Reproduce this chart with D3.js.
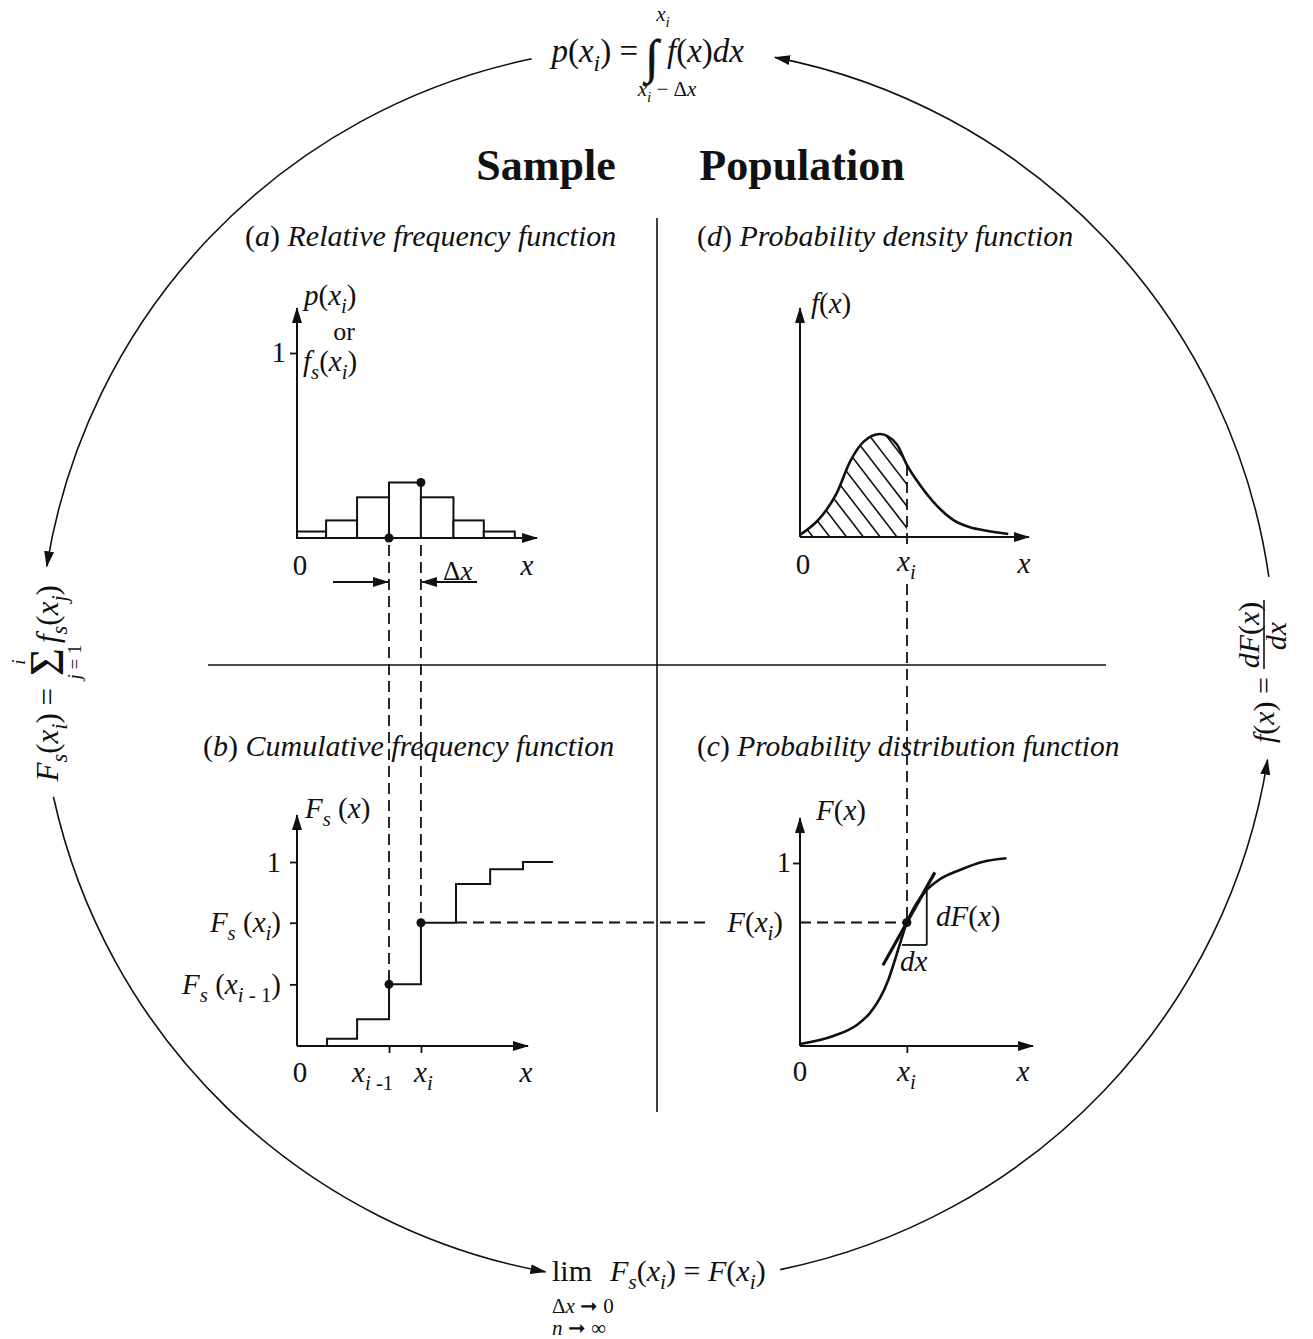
<!DOCTYPE html>
<html>
<head>
<meta charset="utf-8">
<script src="https://cdn.jsdelivr.net/npm/d3@7"></script>
<style>
  body { margin: 0; background: #fff; }
  text { font-family: "Liberation Serif", "Times New Roman", serif; fill: #111; }
</style>
</head>
<body>
<svg id="chart" width="1313" height="1339"></svg>
<script>
// (a) relative frequency histogram (x in bin-width units)
const binEdges = [0, 0.93, 1.92, 2.94, 3.96, 5.0, 5.97, 6.96]
const relFreq = [0.035, 0.095, 0.22, 0.30, 0.22, 0.095, 0.035]

// (b) cumulative frequency steps
const stepX = [0.96, 1.92, 2.94, 3.96, 5.08, 6.17, 7.22]
const cumFreq = [0.04, 0.145, 0.335, 0.67, 0.88, 0.96, 1.0]
const stepEnd = 8.18

// (d) probability density function
const pdfX = [0, 0.93, 1.71, 2.34, 2.96, 3.74, 4.52, 5.0, 5.6, 6.39, 7.17, 7.94, 8.72, 9.73]
const pdfY = [0.009, 0.081, 0.188, 0.325, 0.41, 0.444, 0.40, 0.31, 0.225, 0.135, 0.073, 0.042, 0.027, 0.013]

// (c) probability distribution function
const cdfX = [0, 1.56, 2.66, 3.27, 3.74, 4.13, 4.44, 4.67, 5.0, 5.45, 5.92, 6.54, 7.48, 8.57, 9.66]
const cdfY = [0.011, 0.055, 0.115, 0.18, 0.261, 0.361, 0.47, 0.557, 0.675, 0.779, 0.852, 0.911, 0.962, 1.007, 1.026]

const xi = 5.0          // x_i on the population side
const FofXi = 0.675     // F(x_i)
const tangent = { x0: 3.88, x1: 6.31, slope: 0.209 }
const triangle = { x0: 4.77, x1: 5.93, y0: 0.552, y1: 0.86 }

const ink = '#111'
const LS = 29   // label size
const svg = d3.select('#chart')
svg.append('rect').attr('width', 1313).attr('height', 1339).attr('fill', '#fff')

const defs = svg.append('defs')
defs.append('marker').attr('id', 'ah')
  .attr('viewBox', '0 -6 16 12').attr('refX', 15).attr('refY', 0)
  .attr('markerWidth', 16).attr('markerHeight', 12)
  .attr('markerUnits', 'userSpaceOnUse').attr('orient', 'auto')
  .append('path').attr('d', 'M0,-5L16,0L0,5Z').attr('fill', ink)

// text with _{sub} / ^{sup}, letters italic
function rich(g, x, y, str, size, anchor = 'start', upright = false) {
  const t = g.append('text').attr('x', x).attr('y', y)
    .attr('font-size', size).attr('text-anchor', anchor)
  const segs = []
  let i = 0
  while (i < str.length) {
    if ((str[i] === '_' || str[i] === '^') && str[i + 1] === '{') {
      const end = str.indexOf('}', i)
      segs.push({ t: str.slice(i + 2, end), shift: str[i] === '_' ? 1 : -1 })
      i = end + 1
    } else {
      let j = i
      while (j < str.length && !((str[j] === '_' || str[j] === '^') && str[j + 1] === '{')) j++
      segs.push({ t: str.slice(i, j), shift: 0 })
      i = j
    }
  }
  let cur = 0
  segs.forEach(s => {
    const fs = s.shift ? size * 0.72 : size
    const target = s.shift === 1 ? size * 0.28 : s.shift === -1 ? -size * 0.4 : 0
    const runs = s.t.match(/[A-Za-z]+|[^A-Za-z]+/g) || []
    runs.forEach((r, k) => {
      const ts = t.append('tspan').attr('font-size', fs).text(r)
      ts.attr('font-style', /[A-Za-z]/.test(r) && !upright ? 'italic' : 'normal')
      if (k === 0 && target !== cur) { ts.attr('dy', target - cur); cur = target }
    })
  })
  return t
}

function line(x1, y1, x2, y2, w = 2, dash = null) {
  const l = svg.append('line').attr('x1', x1).attr('y1', y1).attr('x2', x2).attr('y2', y2)
    .attr('stroke', ink).attr('stroke-width', w)
  if (dash) l.attr('stroke-dasharray', dash)
  return l
}

function axes(x, y, xTip, yTip) {
  line(x(0), y(0), x(xTip), y(0), 2).attr('marker-end', 'url(#ah)')
  line(x(0), y(0), x(0), y(yTip), 2).attr('marker-end', 'url(#ah)')
}

function ticksY(y, x0, vals) {
  const g = svg.append('g').attr('transform', `translate(${x0},0)`)
    .call(d3.axisLeft(y).tickValues(vals).tickSize(7).tickFormat(''))
  g.select('.domain').remove()
  g.selectAll('line').attr('stroke', ink).attr('stroke-width', 1.8)
}

function ticksX(x, y0, vals) {
  const g = svg.append('g').attr('transform', `translate(0,${y0})`)
    .call(d3.axisBottom(x).tickValues(vals).tickSize(7).tickFormat(''))
  g.select('.domain').remove()
  g.selectAll('line').attr('stroke', ink).attr('stroke-width', 1.8)
}

function dot(cx, cy) {
  svg.append('circle').attr('cx', cx).attr('cy', cy).attr('r', 4.5).attr('fill', ink)
}

function plain(x, y, s, size, anchor = 'middle') {
  return svg.append('text').attr('x', x).attr('y', y).attr('text-anchor', anchor).attr('font-size', size).text(s)
}

// ---------- outer circle ----------
const cx = 657, cy = 664, R = 618
const arcs = [[-101.7, -170.9], [167.6, 100.4], [78.5, 8.9], [-8.1, -79.0]]
arcs.forEach(([a0, a1]) => {
  const p = d3.path()
  p.arc(cx, cy, R, a0 * Math.PI / 180, a1 * Math.PI / 180, true)
  svg.append('path').attr('d', p.toString()).attr('fill', 'none')
    .attr('stroke', ink).attr('stroke-width', 1.6).attr('marker-end', 'url(#ah)')
})

// ---------- dividers ----------
line(657, 218, 657, 1112, 1.6)
line(208, 665, 1106, 665, 1.6)

plain(546, 180, 'Sample', 44).attr('font-weight', 'bold')
plain(802, 180, 'Population', 44).attr('font-weight', 'bold')

rich(svg, 245, 246, '(a) Relative frequency function', 30)
rich(svg, 697, 246, '(d) Probability density function', 30)
rich(svg, 203, 756, '(b) Cumulative frequency function', 30)
rich(svg, 697, 756, '(c) Probability distribution function', 29.5)

// ---------- (a) histogram ----------
const xa = d3.scaleLinear().domain([0, 7.67]).range([297, 537])
const ya = d3.scaleLinear().domain([0, 1]).range([538, 353])

svg.append('g').selectAll('rect').data(relFreq).join('rect')
  .attr('x', (d, i) => xa(binEdges[i]))
  .attr('y', d => ya(d))
  .attr('width', (d, i) => xa(binEdges[i + 1]) - xa(binEdges[i]))
  .attr('height', d => ya(0) - ya(d))
  .attr('fill', '#fff').attr('stroke', ink).attr('stroke-width', 2)

axes(xa, ya, 7.67, 1.243)
ticksY(ya, xa(0), [1])
plain(286, 362, '1', LS, 'end')
rich(svg, 304, 305, 'p(x_{i})', LS)
plain(344, 340, 'or', 26)
rich(svg, 303, 371, 'f_{s}(x_{i})', LS)
plain(300, 575, '0', LS)
rich(svg, 527, 575, 'x', LS, 'middle')

dot(xa(binEdges[3]), ya(0))
dot(xa(binEdges[4]), ya(relFreq[3]))

// delta-x arrows
line(333, 582, xa(binEdges[3]) - 1, 582, 1.8).attr('marker-end', 'url(#ah)')
line(477, 582, xa(binEdges[4]) + 1, 582, 1.8).attr('marker-end', 'url(#ah)')
rich(svg, 443, 580, 'Δx', 27)

// ---------- (b) cumulative ----------
const xb = d3.scaleLinear().domain([0, 7.38]).range([297, 528])
const yb = d3.scaleLinear().domain([0, 1]).range([1046, 862])

const stepPts = [[stepX[0], 0]].concat(stepX.map((s, i) => [s, cumFreq[i]]), [[stepEnd, 1.0]])
svg.append('path')
  .attr('d', d3.line().x(d => xb(d[0])).y(d => yb(d[1])).curve(d3.curveStepAfter)(stepPts))
  .attr('fill', 'none').attr('stroke', ink).attr('stroke-width', 2)

axes(xb, yb, 7.38, 1.255)
ticksY(yb, xb(0), [1, cumFreq[3], cumFreq[2]])
ticksX(xb, yb(0), [stepX[2], stepX[3]])
plain(281, 872, '1', LS, 'end')
rich(svg, 281, 932, 'F_{s} (x_{i})', LS, 'end')
rich(svg, 281, 994, 'F_{s} (x_{i - 1})', LS, 'end')
rich(svg, 305, 818, 'F_{s} (x)', LS)
plain(300, 1082, '0', LS)
rich(svg, 352, 1082, 'x_{i -1}', LS)
rich(svg, 414, 1082, 'x_{i}', LS)
rich(svg, 526, 1082, 'x', LS, 'middle')

// dashed guides from (a) to (b)
line(xa(binEdges[3]), 545, xa(binEdges[3]), yb(cumFreq[2]), 1.8, '11,6')
line(xa(binEdges[4]), 545, xa(binEdges[4]), yb(cumFreq[3]), 1.8, '11,6')
dot(xb(stepX[2]), yb(cumFreq[2]))
dot(xb(stepX[3]), yb(cumFreq[3]))

// ---------- (d) density ----------
const xd = d3.scaleLinear().domain([0, 10.7]).range([800, 1029])
const yd = d3.scaleLinear().domain([0, 1]).range([537, 305])
const pdf = pdfX.map((x, i) => [x, pdfY[i]])
const curve = d3.curveMonotoneX

defs.append('clipPath').attr('id', 'under').append('path')
  .attr('d', d3.area().x(d => xd(d[0])).y0(yd(0)).y1(d => yd(d[1])).curve(curve)(pdf))
defs.append('clipPath').attr('id', 'leftOfXi').append('rect')
  .attr('x', xd(0)).attr('y', 300).attr('width', xd(xi) - xd(0)).attr('height', 240)

const hatch = svg.append('g').attr('clip-path', 'url(#leftOfXi)')
  .append('g').attr('clip-path', 'url(#under)')
hatch.selectAll('line').data(d3.range(-1, 14)).join('line')
  .attr('x1', k => 813 + k * 16.8).attr('y1', yd(0))
  .attr('x2', k => 813 + k * 16.8 - 140 / 1.3).attr('y2', yd(0) - 140)
  .attr('stroke', ink).attr('stroke-width', 1.6)

svg.append('path').attr('d', d3.line().x(d => xd(d[0])).y(d => yd(d[1])).curve(curve)(pdf))
  .attr('fill', 'none').attr('stroke', ink).attr('stroke-width', 2.6)

axes(xd, yd, 10.7, 0.987)
rich(svg, 811, 313, 'f(x)', LS)
plain(803, 574, '0', LS)
rich(svg, 897, 571, 'x_{i}', LS)
rich(svg, 1024, 573, 'x', LS, 'middle')

// ---------- (c) distribution ----------
const xc = d3.scaleLinear().domain([0, 10.9]).range([800, 1033])
const yc = d3.scaleLinear().domain([0, 1]).range([1046, 863])
const cdf = cdfX.map((x, i) => [x, cdfY[i]])

svg.append('path').attr('d', d3.line().x(d => xc(d[0])).y(d => yc(d[1])).curve(curve)(cdf))
  .attr('fill', 'none').attr('stroke', ink).attr('stroke-width', 2.6)

axes(xc, yc, 10.9, 1.246)
ticksY(yc, xc(0), [1])
ticksX(xc, yc(0), [xi])
plain(791, 872, '1', LS, 'end')
rich(svg, 816, 820, 'F(x)', LS)
rich(svg, 783, 932, 'F(x_{i})', LS, 'end')
plain(800, 1081, '0', LS)
rich(svg, 897, 1081, 'x_{i}', LS)
rich(svg, 1023, 1081, 'x', LS, 'middle')

// tangent and dF/dx triangle
line(xc(tangent.x0), yc(FofXi + tangent.slope * (tangent.x0 - xi)),
     xc(tangent.x1), yc(FofXi + tangent.slope * (tangent.x1 - xi)), 3.2)
line(xc(triangle.x0), yc(triangle.y0), xc(triangle.x1), yc(triangle.y0), 1.8)
line(xc(triangle.x1), yc(triangle.y0), xc(triangle.x1), yc(triangle.y1), 1.8)
rich(svg, 936, 926, 'dF(x)', LS)
rich(svg, 900, 971, 'dx', LS)

// dashed guides between panels
line(xd(xi), yd(pdfY[7]), xd(xi), 548, 1.8, '11,6')
line(xd(xi), 584, xd(xi), yc(FofXi), 1.8, '11,6')
line(xb(stepX[4]), yc(FofXi), 708, yc(FofXi), 1.8, '11,6')
line(xc(0), yc(FofXi), xc(xi), yc(FofXi), 1.8, '11,6')
dot(xc(xi), yc(FofXi))

// ---------- formulas round the circle ----------
// top
rich(svg, 638, 62, 'p(x_{i}) =', 33, 'end')
plain(652, 73, '∫', 48).attr('stroke', ink).attr('stroke-width', 0.6)
rich(svg, 667, 62, 'f(x)dx', 33)
rich(svg, 663, 21, 'x_{i}', 21, 'middle')
rich(svg, 667, 96, 'x_{i} − Δx', 21, 'middle')

// bottom
rich(svg, 552, 1281, 'lim', 30, 'start', true)
rich(svg, 610, 1281, 'F_{s}(x_{i}) = F(x_{i})', 30)
rich(svg, 552, 1313, 'Δx ➞ 0', 21)
rich(svg, 552, 1335, 'n ➞ ∞', 21)

// left (rotated)
const lf = svg.append('g').attr('transform', 'translate(58,683) rotate(-90)')
rich(lf, -5, 0, 'F_{s}(x_{i}) =', 31, 'end')
lf.append('text').attr('x', 21).attr('y', 5).attr('text-anchor', 'middle').attr('font-size', 48).text('Σ')
rich(lf, 21, -33, 'i', 19, 'middle')
rich(lf, 21, 23, 'j = 1', 19, 'middle')
rich(lf, 40, 0, 'f_{s}(x_{j})', 31)

// right (rotated)
const rf = svg.append('g').attr('transform', 'translate(1274,675) rotate(-90)')
rich(rf, -2, 0, 'f(x) =', 30, 'end')
rich(rf, 40, -15, 'dF(x)', 30, 'middle')
rf.append('line').attr('x1', 6).attr('x2', 75).attr('y1', -10).attr('y2', -10)
  .attr('stroke', ink).attr('stroke-width', 1.6)
rich(rf, 39, 12, 'dx', 30, 'middle')
</script>
</body>
</html>
